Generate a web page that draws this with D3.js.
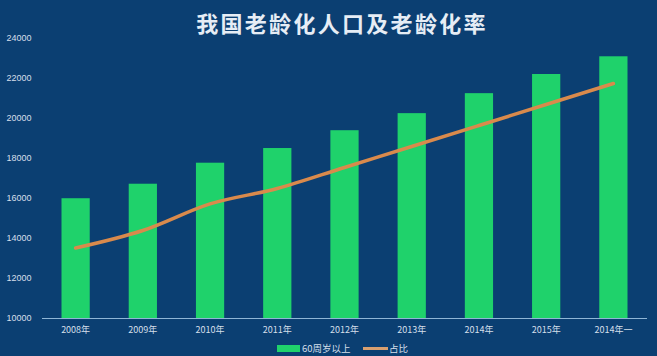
<!DOCTYPE html>
<html><head><meta charset="utf-8">
<script src="https://cdn.jsdelivr.net/npm/d3@7"></script>
<style>
html,body{margin:0;padding:0;background:#0b3f72;}
svg{display:block;}
</style></head>
<body>
<svg id="c" width="657" height="356"></svg>
<script>
const title = "我国老龄化人口及老龄化率";
const categories = ["2008年","2009年","2010年","2011年","2012年","2013年","2014年","2015年","2014年一"];
const population60 = [15989,16714,17765,18499,19390,20243,21242,22200,23086];
const ratio = [12.0,12.5,13.26,13.7,14.3,14.9,15.5,16.1,16.7];
const yTicks = [10000,12000,14000,16000,18000,20000,22000,24000];
const legendLabels = ["60周岁以上","占比"];

const W = 657, H = 356;
const m = {left:42, right:10, top:38, bottom:38};
const svg = d3.select("#c");
svg.append("rect").attr("width",W).attr("height",H).attr("fill","#0b3f72");

const font = "'Noto Sans CJK SC','Noto Sans',sans-serif";
const x = d3.scaleBand().domain(categories).range([m.left, 647]).paddingInner(0.58).paddingOuter(0.29);
const y = d3.scaleLinear().domain([10000,24000]).range([318, 38]);
const y2 = d3.scaleLinear().domain([10,18]).range([318, 38]);

// title
svg.append("text").attr("x",342).attr("y",32).attr("text-anchor","middle")
  .attr("font-family",font).attr("font-size",22).attr("font-weight","bold")
  .attr("fill","#e6edf5").attr("letter-spacing",2.3).text(title);

// y axis labels
const yAxis = d3.axisLeft(y).tickValues(yTicks).tickSize(0).tickPadding(0).tickFormat(d3.format("d"));
const ga = svg.append("g").attr("transform","translate(30,0)").call(yAxis);
ga.select(".domain").remove();
ga.selectAll("text").attr("font-family","'Liberation Sans',Arial,sans-serif").attr("font-size",9).attr("fill","#d5dfea").attr("text-anchor","middle").attr("dx","-11");

// bars
svg.append("g").selectAll("rect").data(categories).join("rect")
  .attr("x",d=>x(d)).attr("width",x.bandwidth())
  .attr("y",(d,i)=>y(population60[i])).attr("height",(d,i)=>y(10000)-y(population60[i]))
  .attr("fill","#1fd26b");

// x axis
const xAxis = d3.axisBottom(x).tickSize(0).tickPadding(9);
const gx = svg.append("g").attr("transform","translate(0,318)").call(xAxis);
gx.select(".domain").attr("stroke","#8fb6d6").attr("stroke-width",1).attr("d","M42,0.5H647");
gx.selectAll("text").attr("font-family",font).attr("font-size",9).attr("fill","#d5dfea");

// line
const line = d3.line().x((d,i)=>x(categories[i])+x.bandwidth()/2).y(d=>y2(d)).curve(d3.curveMonotoneX);
svg.append("path").datum(ratio).attr("d",line).attr("fill","none")
  .attr("stroke","#d98a4c").attr("stroke-width",3.5).attr("stroke-linecap","round");

// legend
const lg = svg.append("g");
lg.append("rect").attr("x",277).attr("y",345).attr("width",23).attr("height",7).attr("fill","#1fd26b");
lg.append("text").attr("x",302).attr("y",352).attr("font-family",font).attr("font-size",9.5).attr("fill","#d5dfea").text(legendLabels[0]);
lg.append("line").attr("x1",363).attr("x2",388).attr("y1",348.5).attr("y2",348.5).attr("stroke","#d9a070").attr("stroke-width",3);
lg.append("text").attr("x",389).attr("y",352).attr("font-family",font).attr("font-size",9.5).attr("fill","#d5dfea").text(legendLabels[1]);
</script>
</body></html>
